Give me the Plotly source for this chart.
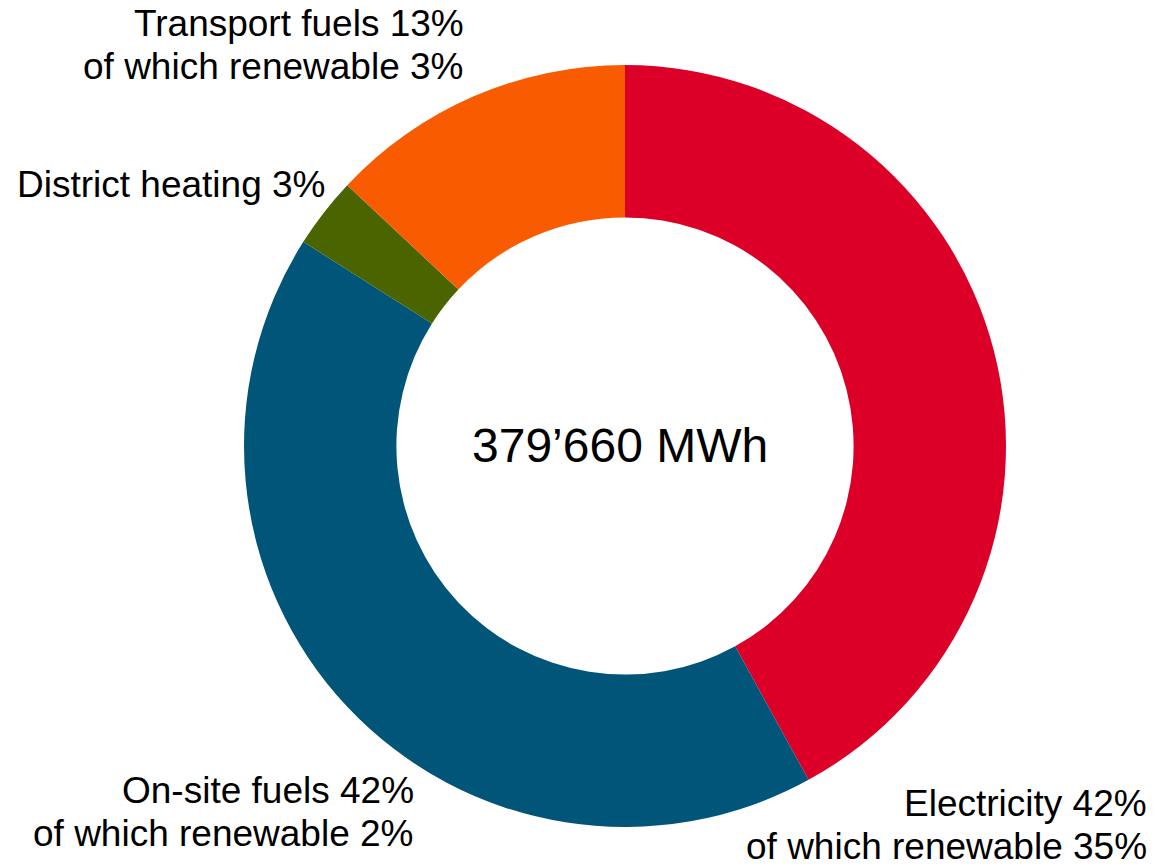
import plotly.graph_objects as go

categories = ["Electricity", "On-site fuels", "District heating", "Transport fuels"]
shares = [42, 42, 3, 13]
renewable = [35, 2, None, 3]
colors = ["#DC0028", "#005579", "#4A6500", "#F95C00"]
total_label = "379’660 MWh"

W, H = 1155, 866
OFF = 8  # page body margin offset

def px(x):
    return (x - OFF) / W

def py(y):
    return 1 - (y - OFF) / H

fig = go.Figure()
fig.add_trace(go.Pie(
    labels=categories,
    values=shares,
    sort=False,
    direction="clockwise",
    rotation=0,
    hole=0.6,
    marker=dict(colors=colors, line=dict(width=0)),
    textinfo="none",
    hoverinfo="label+percent",
    showlegend=False,
    domain=dict(x=[px(244), px(1006)], y=[py(827), py(65)]),
))

FONT = dict(family="Liberation Sans, Arial, sans-serif", size=37, color="#000000")

# label lines: (right x, center y per line)
label_pos = {
    "Transport fuels": (466, [24, 67]),
    "District heating": (327, [185]),
    "On-site fuels": (416, [790, 833]),
    "Electricity": (1149, [803, 846]),
}
for cat, sh, ren in zip(categories, shares, renewable):
    lines = [f"{cat} {sh}%"]
    if ren is not None:
        lines.append(f"of which renewable {ren}%")
    xr, ys = label_pos[cat]
    for t, yy in zip(lines, ys):
        fig.add_annotation(text=t, x=px(xr), y=py(yy), xref="paper", yref="paper",
                           xanchor="right", yanchor="middle", showarrow=False,
                           font=FONT)

fig.add_annotation(text=total_label, x=px(620), y=py(445), xref="paper", yref="paper",
                   xanchor="center", yanchor="middle", showarrow=False,
                   font=dict(family="Liberation Sans, Arial, sans-serif", size=48, color="#000000"))

fig.update_layout(width=W, height=H, margin=dict(l=0, r=0, t=0, b=0),
                  paper_bgcolor="white", plot_bgcolor="white")
fig.write_html("out.html")
